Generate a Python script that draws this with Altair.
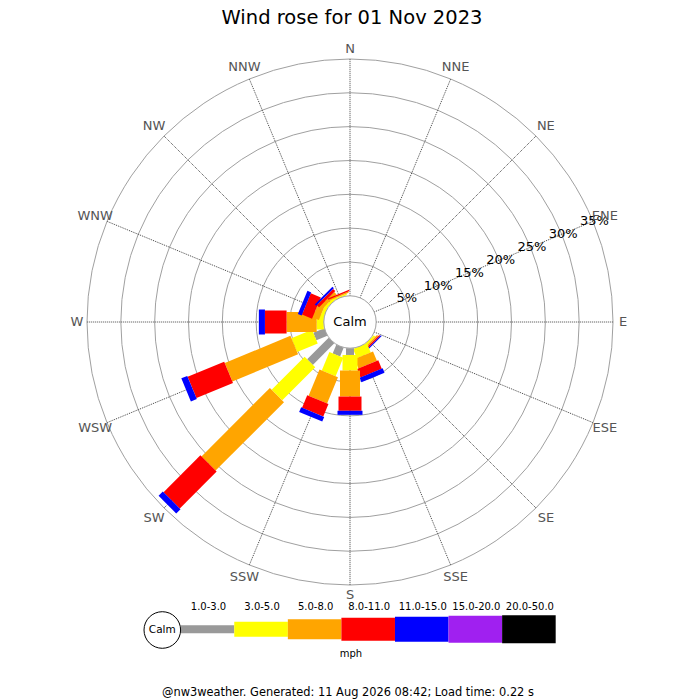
import altair as alt
import pandas as pd

# ---------------- data ----------------
directions = ["N", "NNE", "NE", "ENE", "E", "ESE", "SE", "SSE",
              "S", "SSW", "SW", "WSW", "W", "WNW", "NW", "NNW"]
speed_bins = ["1.0-3.0", "3.0-5.0", "5.0-8.0", "8.0-11.0",
              "11.0-15.0", "15.0-20.0", "20.0-50.0"]

# percentage of the day per direction, one list per speed bin (mph)
pct_1_3   = [0, 0, 0, 0, 0, 0, 0,    0,    1.0,  1.4,  4.5,  1.75, 0,    0,   0,    0]
pct_3_5   = [0, 0, 0, 0, 0, 0, 0.3,  1.45, 2.3,  2.95, 6.9,  3.3,  1.05, 0.5, 0.4,  0.2]
pct_5_8   = [0, 0, 0, 0, 0, 0, 0.25, 1.5,  3.85, 4.2,  14.3, 10.5, 4.45, 1.0, 0.5,  0.2]
pct_8_11  = [0, 0, 0, 0, 0, 0, 0.2,  1.35, 2.1,  2.0,  7.7,  5.85, 3.2,  1.6, 0.45, 0.2]
pct_11_15 = [0, 0, 0, 0, 0, 0, 0.15, 0.7,  0.6,  0.75, 0.9,  0.95, 0.9,  0.6, 0.3,  0]
pct_15_20 = [0] * 16
pct_20_50 = [0] * 16

ring_pcts = [5, 10, 15, 20, 25, 30, 35]
ring_labels = ["5%", "10%", "15%", "20%", "25%", "30%", "35%"]

title_text = "Wind rose for 01 Nov 2023"
unit_text = "mph"
calm_text = "Calm"
footer_text = "@nw3weather. Generated: 11 Aug 2026 08:42; Load time: 0.22 s"

# ---------------- styles / layout ----------------
bin_colors = ["#999999", "#ffff00", "#ffa500", "#ff0000", "#0000ff", "#a020f0", "#000000"]
bin_widths = [8, 15, 20, 23, 25, 27, 28]
FONT = "DejaVu Sans"
R0 = 26.2                       # calm circle radius (px)
K = (263.0 - R0) / 35.0         # px per percent
ROUT = R0 + K * 35

W, H = 684, 692
xs = alt.Scale(domain=[-342, 342], nice=False, zero=False)
ys = alt.Scale(domain=[-(H - 314), 314], nice=False, zero=False)

series = [pct_1_3, pct_3_5, pct_5_8, pct_8_11, pct_11_15, pct_15_20, pct_20_50]
rows = []
for i, d in enumerate(directions):
    for j, b in enumerate(speed_bins):
        rows.append({"dir": d, "di": i, "bin": b, "bi": j, "pct": series[j][i]})
bars_df = pd.DataFrame(rows)
dir_df = pd.DataFrame({"dir": directions, "di": list(range(16))})
ring_df = pd.DataFrame({"p": ring_pcts, "lab": ring_labels})
bin_df = pd.DataFrame({"bin": speed_bins, "bi": list(range(7))})


def X(f):
    return alt.X(f, scale=xs, axis=None)


def Y(f):
    return alt.Y(f, scale=ys, axis=None)


color_scale = alt.Scale(domain=speed_bins, range=bin_colors)
width_scale = alt.Scale(type="ordinal", domain=speed_bins, range=bin_widths)

# rings
rings = alt.Chart(ring_df).transform_calculate(
    r=f"{R0}+{K}*datum.p", s="pow(2*datum.r,2)", cx="0", cy="0"
).mark_point(shape="circle", filled=False, color="#a0a0a0", strokeWidth=1, opacity=1).encode(
    x=X("cx:Q"), y=Y("cy:Q"), size=alt.Size("s:Q", scale=None, legend=None)
)

# radial rays
rays = alt.Chart(dir_df).transform_calculate(
    a="datum.di*PI/8",
    x1=f"{R0}*sin(datum.a)", y1=f"{R0}*cos(datum.a)",
    x2=f"{ROUT}*sin(datum.a)", y2=f"{ROUT}*cos(datum.a)",
).mark_rule(color="#444444", strokeDash=[1, 1], strokeWidth=1).encode(
    x=X("x1:Q"), y=Y("y1:Q"), x2="x2:Q", y2="y2:Q"
)

# stacked bars
bars = alt.Chart(bars_df).transform_window(
    cum="sum(pct)", groupby=["dir"], sort=[alt.SortField("bi")], frame=[None, 0]
).transform_filter("datum.pct > 0").transform_calculate(
    a="datum.di*PI/8",
    r1=f"{R0}+{K}*(datum.cum-datum.pct)",
    r2=f"{R0}+{K}*datum.cum",
    x1="datum.r1*sin(datum.a)", y1="datum.r1*cos(datum.a)",
    x2="datum.r2*sin(datum.a)", y2="datum.r2*cos(datum.a)",
).mark_rule(strokeCap="butt", opacity=1).encode(
    x=X("x1:Q"), y=Y("y1:Q"), x2="x2:Q", y2="y2:Q",
    color=alt.Color("bin:N", scale=color_scale, legend=None),
    strokeWidth=alt.StrokeWidth("bin:N", scale=width_scale, legend=None),
)

# calm circle
calm = alt.Chart(pd.DataFrame({"t": [calm_text]})).transform_calculate(
    cx="0", cy="0", s=f"pow(2*{R0},2)"
)
calm_circle = calm.mark_point(shape="circle", filled=True, fill="white", stroke="#a0a0a0",
                              strokeWidth=1, opacity=1).encode(
    x=X("cx:Q"), y=Y("cy:Q"), size=alt.Size("s:Q", scale=None, legend=None)
)
calm_label = calm.mark_text(font=FONT, fontSize=13, color="black", baseline="middle").encode(
    x=X("cx:Q"), y=Y("cy:Q"), text="t:N"
)

# percentage labels along ENE
ring_text = alt.Chart(ring_df).transform_calculate(
    r=f"{R0}+{K}*datum.p+1.5", a="3*PI/8",
    lx="datum.r*sin(datum.a)", ly="datum.r*cos(datum.a)"
).mark_text(font=FONT, fontSize=13, color="black", baseline="middle", align="center").encode(
    x=X("lx:Q"), y=Y("ly:Q"), text="lab:N"
)

# compass labels
compass = alt.Chart(dir_df).transform_calculate(
    a="datum.di*PI/8",
    rl="273+4*abs(sin(2*datum.a))",
    lx="datum.rl*sin(datum.a)", ly="datum.rl*cos(datum.a)"
).mark_text(font=FONT, fontSize=13, color="#555555", baseline="middle", align="center").encode(
    x=X("lx:Q"), y=Y("ly:Q"), text="dir:N"
)

# title
title = alt.Chart(pd.DataFrame({"t": [title_text]})).mark_text(
    font=FONT, fontSize=19.5, color="black", baseline="middle", align="center"
).encode(x=alt.value(344), y=alt.value(10), text="t:N")

# legend
LX0, LSTEP, LY = -169.3, 53.57, -307.2
leg = alt.Chart(bin_df).transform_calculate(
    xa=f"{LX0}+{LSTEP}*datum.bi", xb=f"{LX0}+{LSTEP}*(datum.bi+1)",
    xc=f"{LX0}+{LSTEP}*(datum.bi+0.5)+1", yy=f"{LY}", yl="-285"
)
leg_bars = leg.mark_rule(strokeCap="butt", opacity=1).encode(
    x=X("xa:Q"), x2="xb:Q", y=Y("yy:Q"),
    color=alt.Color("bin:N", scale=color_scale, legend=None),
    strokeWidth=alt.StrokeWidth("bin:N", scale=width_scale, legend=None),
)
leg_text = leg.mark_text(font=FONT, fontSize=10, color="black", baseline="middle").encode(
    x=X("xc:Q"), y=Y("yl:Q"), text="bin:N"
)
leg_calm = alt.Chart(pd.DataFrame({"t": [calm_text]})).transform_calculate(
    cx="-187.7", cy="-308", s="pow(36.6,2)"
)
leg_circle = leg_calm.mark_point(shape="circle", filled=True, fill="white", stroke="black",
                                 strokeWidth=1, opacity=1).encode(
    x=X("cx:Q"), y=Y("cy:Q"), size=alt.Size("s:Q", scale=None, legend=None)
)
leg_calm_text = leg_calm.mark_text(font=FONT, fontSize=10.5, color="black", baseline="middle").encode(
    x=X("cx:Q"), y=Y("cy:Q"), text="t:N"
)
unit = alt.Chart(pd.DataFrame({"t": [unit_text]})).mark_text(
    font=FONT, fontSize=10, color="black", baseline="middle"
).encode(x=alt.value(343), y=alt.value(646), text="t:N")

footer = alt.Chart(pd.DataFrame({"t": [footer_text]})).mark_text(
    font=FONT, fontSize=11.4, color="black", baseline="alphabetic"
).encode(x=alt.value(340), y=alt.value(687.5), text="t:N")

chart = alt.layer(
    rings, rays, bars, calm_circle, calm_label, ring_text, compass, title,
    leg_bars, leg_circle, leg_calm_text, leg_text, unit, footer
).properties(
    width=W, height=H, padding=0, autosize=alt.AutoSizeParams(type="none"),
    background="white"
).configure_view(strokeWidth=0)

chart.save("out.html", embed_options={"renderer": "svg", "actions": False})
